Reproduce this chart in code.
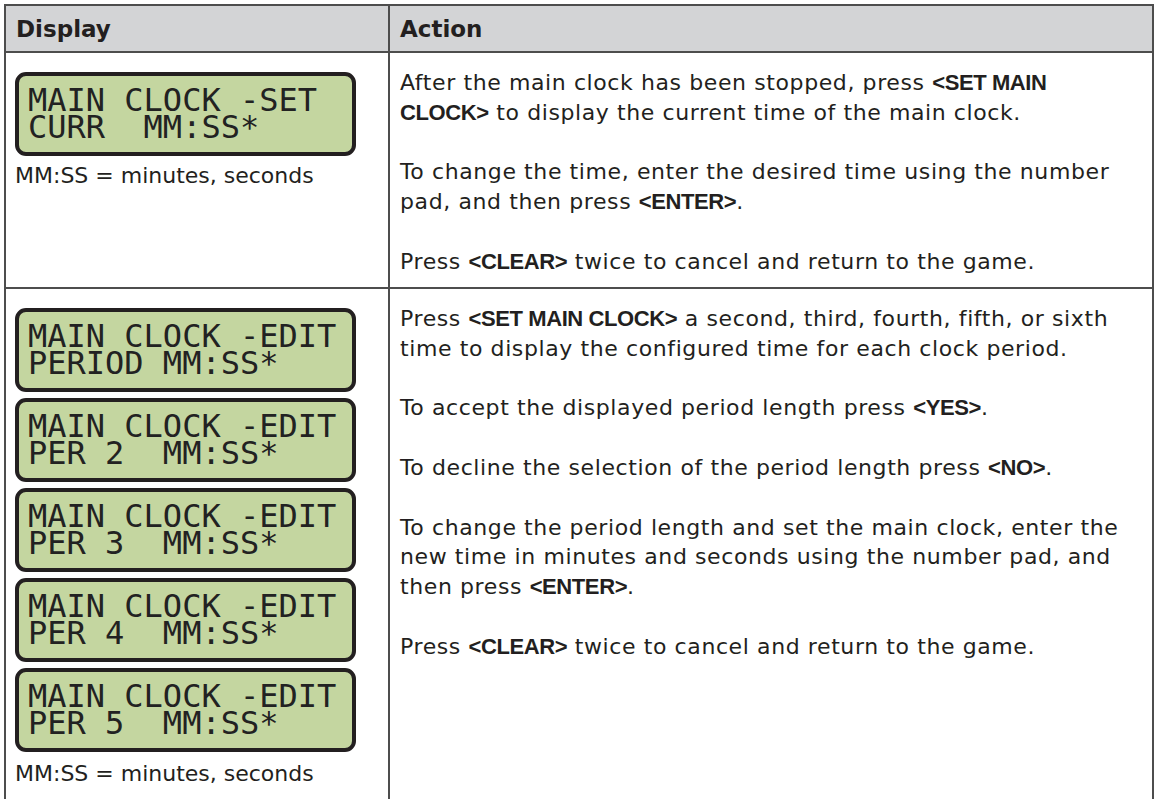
<!DOCTYPE html>
<html>
<head>
<meta charset="utf-8">
<script src="https://cdn.jsdelivr.net/npm/chart.js@4/dist/chart.umd.min.js"></script>
<style>
    html, body { margin: 0; background: #ffffff; }
    body {
        width: 1155px; height: 799px; overflow: hidden; position: relative;
        font-family: "DejaVu Sans", sans-serif; color: #231f20;
    }
    .rule { position: absolute; background: #4d4d4d; }
    .hdr { position: absolute; left: 5px; top: 5px; width: 1148px; height: 47px; background: #d3d4d6; }
    .htxt { position: absolute; font-size: 23px; font-weight: bold; line-height: 29.8px; white-space: nowrap; }
    .lcd {
        position: absolute; left: 15px; width: 341px; height: 84px; box-sizing: border-box;
        border: 4px solid #231f20; border-radius: 11px; background: #c4d6a0;
        padding: 11px 0 0 9px;
        font-family: "DejaVu Sans Mono", monospace; font-size: 32px; line-height: 27px;
        color: #222222; white-space: pre;
    }
    .cap { position: absolute; left: 15px; font-size: 22px; line-height: 29.8px; white-space: nowrap; }
    .steps { position: absolute; left: 400px; font-size: 22px; line-height: 29.8px; letter-spacing: 0.6px; white-space: nowrap; }
    .steps p { margin: 0 0 29.8px 0; }
    .steps b { font-family: "Liberation Sans", Arial, sans-serif; font-weight: bold; letter-spacing: -0.4px; }
</style>
</head>
<body>
<div class="hdr"></div>
<div id="page"></div>

<script>
// Cabeceras de la tabla
const headers = ['Display', 'Action'];

// Pantallas LCD de cada fila
const setLcd = [
    ['MAIN CLOCK -SET', 'CURR  MM:SS*']
];
const editLcd = [
    ['MAIN CLOCK -EDIT', 'PERIOD MM:SS*'],
    ['MAIN CLOCK -EDIT', 'PER 2  MM:SS*'],
    ['MAIN CLOCK -EDIT', 'PER 3  MM:SS*'],
    ['MAIN CLOCK -EDIT', 'PER 4  MM:SS*'],
    ['MAIN CLOCK -EDIT', 'PER 5  MM:SS*']
];
const caption = 'MM:SS = minutes, seconds';

// Textos de la columna Action (** = negrita, \n = salto de línea)
const setSteps = [
    'After the main clock has been stopped, press **<SET MAIN\nCLOCK>** to display the current time of the main clock.',
    'To change the time, enter the desired time using the number\npad, and then press **<ENTER>**.',
    'Press **<CLEAR>** twice to cancel and return to the game.'
];
const editSteps = [
    'Press **<SET MAIN CLOCK>** a second, third, fourth, fifth, or sixth\ntime to display the configured time for each clock period.',
    'To accept the displayed period length press **<YES>**.',
    'To decline the selection of the period length press **<NO>**.',
    'To change the period length and set the main clock, enter the\nnew time in minutes and seconds using the number pad, and\nthen press **<ENTER>**.',
    'Press **<CLEAR>** twice to cancel and return to the game.'
];

const page = document.getElementById('page');

function add(cls, css) {
    const el = document.createElement('div');
    el.className = cls;
    Object.assign(el.style, css);
    page.appendChild(el);
    return el;
}

// Líneas de la tabla
add('rule', { left: '4px', top: '4px', width: '1150px', height: '2px' });
add('rule', { left: '4px', top: '51px', width: '1150px', height: '2px' });
add('rule', { left: '4px', top: '287px', width: '1150px', height: '2px' });
add('rule', { left: '4px', top: '4px', width: '2px', height: '800px' });
add('rule', { left: '388px', top: '4px', width: '2px', height: '800px' });
add('rule', { left: '1152px', top: '4px', width: '2px', height: '800px' });

// Cabeceras
add('htxt', { left: '16px', top: '15px' }).textContent = headers[0];
add('htxt', { left: '400px', top: '15px' }).textContent = headers[1];

// Pantallas
function drawLcd(lines, top) {
    add('lcd', { top: top + 'px' }).textContent = lines.join('\n');
}
setLcd.forEach((l, i) => drawLcd(l, 72 + i * 90));
editLcd.forEach((l, i) => drawLcd(l, 308 + i * 90));

add('cap', { top: '161px' }).textContent = caption;
add('cap', { top: '759px' }).textContent = caption;

// Párrafos con partes en negrita
function drawSteps(steps, top) {
    const box = add('steps', { top: top + 'px' });
    steps.forEach(s => {
        const p = document.createElement('p');
        s.split('**').forEach((part, k) => {
            const holder = k % 2 ? document.createElement('b') : p;
            part.split('\n').forEach((t, j) => {
                if (j > 0) holder.appendChild(document.createElement('br'));
                holder.appendChild(document.createTextNode(t));
            });
            if (holder !== p) p.appendChild(holder);
        });
        box.appendChild(p);
    });
}
drawSteps(setSteps, 68);
drawSteps(editSteps, 304);
</script>
</body>
</html>
